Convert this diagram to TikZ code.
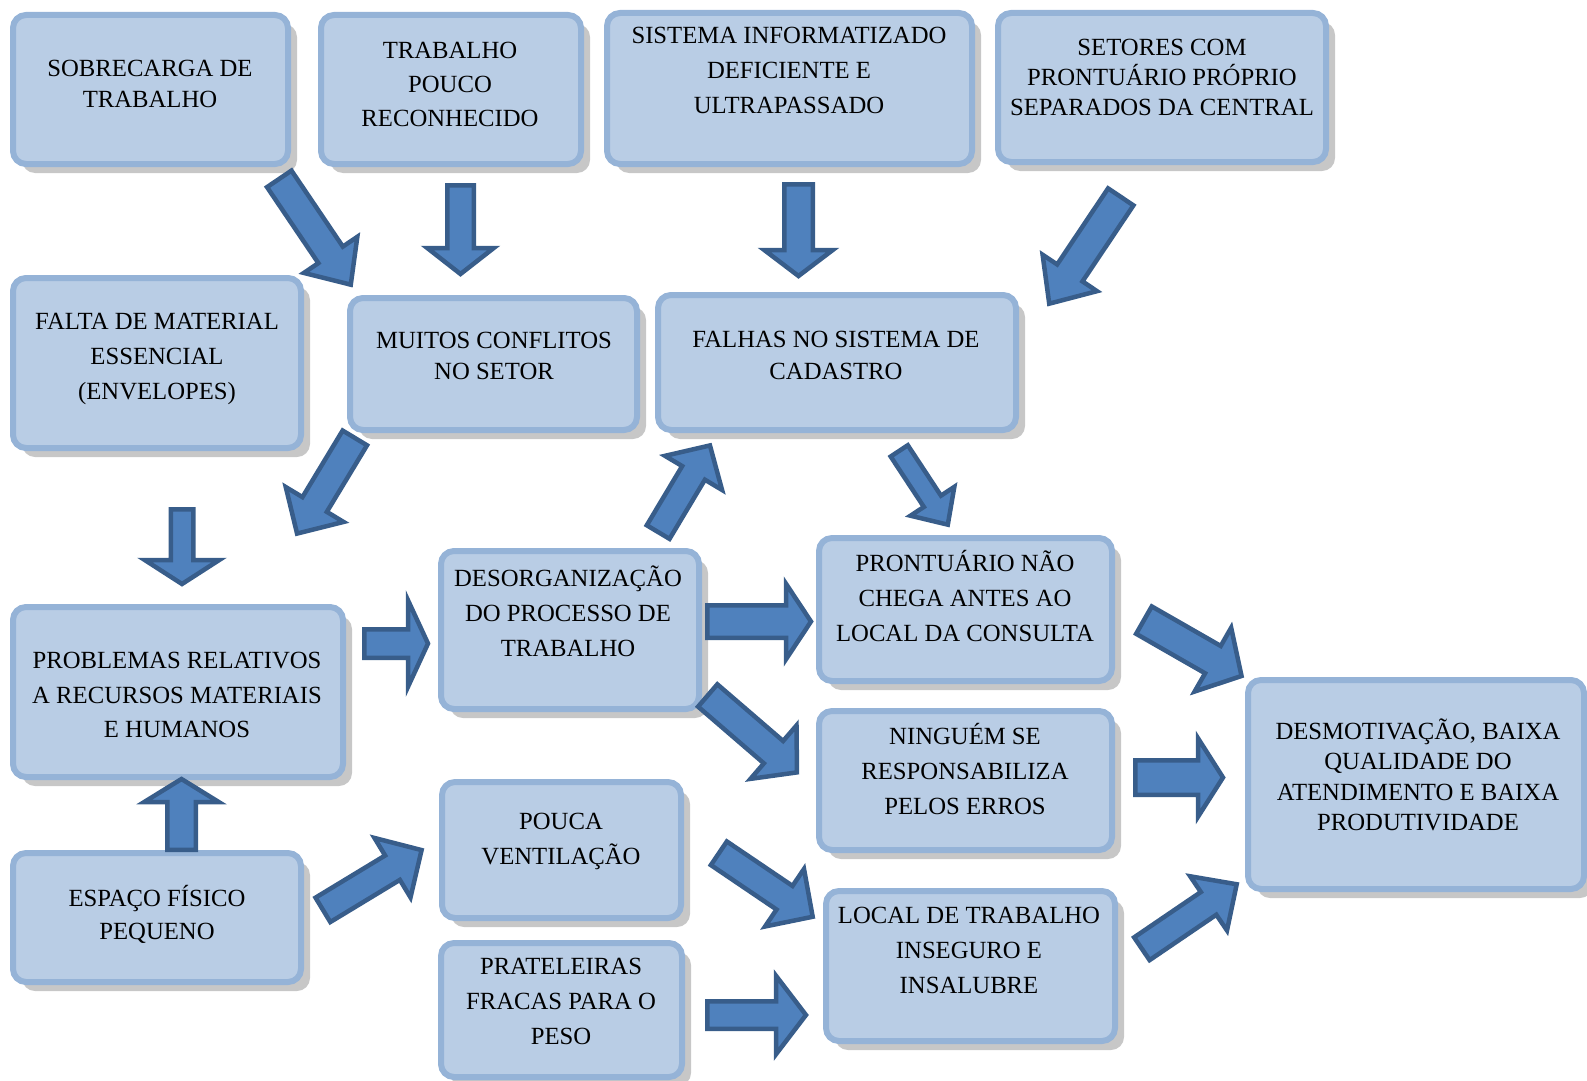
\documentclass[tikz,border=0pt]{standalone}
\usepackage{fontspec}
\setmainfont{Liberation Serif}
\usetikzlibrary{calc,shadows}
\definecolor{boxfill}{HTML}{B9CDE5}
\definecolor{boxline}{HTML}{95B3D7}
\definecolor{arrfill}{HTML}{4F81BD}
\definecolor{arrline}{HTML}{385D8A}
\tikzset{
  box/.style={draw=boxline, fill=boxfill, line width=6pt, rounded corners=13pt, inner sep=0pt,
    drop shadow={shadow xshift=9pt, shadow yshift=-9pt, fill=black!22, opacity=1}},
  txt/.style={align=center, inner sep=0pt, font=\fontsize{24.7}{35}\selectfont},
  txtb/.style={txt, font=\fontsize{24.7}{31}\selectfont},
  arr/.style={fill=arrfill, draw=arrline, line width=4.5pt, line join=miter},
}
% tail, tip, shaft outer width, head outer width, head outer length
\newcommand\barrow[5]{%
  \draw[arr] let \p1=(#1), \p2=(#2), \n1={atan2(\y2-\y1,\x2-\x1)},
     \p3=($(\p1)+(\n1:2.25pt)$), \p4=($(\p2)+(\n1+180:4pt)$),
     \n2={#3/2-2.25}, \n3={#4/2-2.25}, \n4={#5-2} in
    ($(\p3)+(\n1+90:\n2pt)$) --
    ($(\p4)+(\n1+180:\n4pt)+(\n1+90:\n2pt)$) --
    ($(\p4)+(\n1+180:\n4pt)+(\n1+90:\n3pt)$) --
    (\p4) --
    ($(\p4)+(\n1+180:\n4pt)+(\n1-90:\n3pt)$) --
    ($(\p4)+(\n1+180:\n4pt)+(\n1-90:\n2pt)$) --
    ($(\p3)+(\n1-90:\n2pt)$) -- cycle;
}
\begin{document}
\begin{tikzpicture}[x=1pt,y=-1pt]
\useasboundingbox (0,0) rectangle (1587,1081);
% boxes
\node[box, minimum width=275, minimum height=149] (sob) at (150.5,89.5) {};
\node[box, minimum width=260, minimum height=149] (tra) at (451,89.5) {};
\node[box, minimum width=365, minimum height=151] (sis) at (789.5,88.5) {};
\node[box, minimum width=328, minimum height=149] (set) at (1162,87.5) {};
\node[box, minimum width=288, minimum height=170] (fal) at (157,363) {};
\node[box, minimum width=287, minimum height=132] (mui) at (493.5,364) {};
\node[box, minimum width=358, minimum height=135] (fah) at (837,362.5) {};
\node[box, minimum width=258, minimum height=158] (des) at (570,630) {};
\node[box, minimum width=330, minimum height=170] (pro) at (178,692) {};
\node[box, minimum width=293, minimum height=143] (pnc) at (965.5,609.5) {};
\node[box, minimum width=293, minimum height=139] (nin) at (965.5,780.5) {};
\node[box, minimum width=336, minimum height=209] (dmt) at (1416,784.5) {};
\node[box, minimum width=288, minimum height=129] (esp) at (157,917.5) {};
\node[box, minimum width=239, minimum height=136] (pou) at (561.5,850) {};
\node[box, minimum width=241, minimum height=134] (pra) at (561.5,1010) {};
\node[box, minimum width=289, minimum height=150] (loc) at (970.5,966) {};
% texts
\node[txtb] (t1) at (150,83.5) {SOBRECARGA DE\\TRABALHO};
\node[txt, font=\fontsize{24.7}{34}\selectfont] (t2) at (450,84) {TRABALHO\\POUCO\\RECONHECIDO};
\node[txt] (t3) at (789,70) {SISTEMA INFORMATIZADO\\DEFICIENTE E\\ULTRAPASSADO};
\node[txt, font=\fontsize{24.7}{30}\selectfont] (t4) at (1162,77) {SETORES COM\\PRONTUÁRIO PRÓPRIO\\SEPARADOS DA CENTRAL};
\node[txt] (t5) at (157,359) {FALTA DE MATERIAL\\ESSENCIAL\\(ENVELOPES)};
\node[txtb] (t6) at (494,356) {MUITOS CONFLITOS\\NO SETOR};
\node[txt, font=\fontsize{24.7}{32}\selectfont] (t7) at (836,355) {FALHAS NO SISTEMA DE\\CADASTRO};
\node[txt] (t8) at (568,611) {DESORGANIZAÇÃO\\DO PROCESSO DE\\TRABALHO};
\node[txt, font=\fontsize{24.7}{34.5}\selectfont] (t9) at (177,695) {PROBLEMAS RELATIVOS\\A RECURSOS MATERIAIS\\E HUMANOS};
\node[txt] (t10) at (965,596) {PRONTUÁRIO NÃO\\CHEGA ANTES AO\\LOCAL DA CONSULTA};
\node[txt] (t11) at (965,769) {NINGUÉM SE\\RESPONSABILIZA\\PELOS ERROS};
\node[txt, font=\fontsize{24.7}{30.5}\selectfont] (t12) at (1418,775) {DESMOTIVAÇÃO, BAIXA\\QUALIDADE DO\\ATENDIMENTO E BAIXA\\PRODUTIVIDADE};
\node[txt, font=\fontsize{24.7}{33}\selectfont] (t13) at (157,914) {ESPAÇO FÍSICO\\PEQUENO};
\node[txt] (t14) at (561,841) {POUCA\\VENTILAÇÃO};
\node[txt] (t15) at (561,1001) {PRATELEIRAS\\FRACAS PARA O\\PESO};
\node[txt] (t16) at (969,950) {LOCAL DE TRABALHO\\INSEGURO E\\INSALUBRE};
% arrow end points
\coordinate (aAs) at (362,643.5);   \coordinate (aAe) at (432,643.5);
\coordinate (aBs) at (705,621.5);   \coordinate (aBe) at (815,621.5);
\coordinate (aCs) at (278,177);     \coordinate (aCe) at (353,288);
\coordinate (aDs) at (460.5,183);   \coordinate (aDe) at (460.5,278);
\coordinate (aEs) at (798.5,182);   \coordinate (aEe) at (798.5,280);
\coordinate (aFs) at (1122,195);    \coordinate (aFe) at (1047,307);
\coordinate (aGs) at (182,507);     \coordinate (aGe) at (182,588);
\coordinate (aHs) at (181.5,852);   \coordinate (aHe) at (181.5,775);
\coordinate (aIs) at (356,436);     \coordinate (aIe) at (295,537);
\coordinate (aJs) at (657,534);     \coordinate (aJe) at (712,442);
\coordinate (aKs) at (898,449);     \coordinate (aKe) at (950,528);
\coordinate (aLs) at (706,694);     \coordinate (aLe) at (800,775);
\coordinate (aMs) at (1142,619);    \coordinate (aMe) at (1245,678);
\coordinate (aNs) at (1133,777.5);  \coordinate (aNe) at (1227,777.5);
\coordinate (aOs) at (1140,950);    \coordinate (aOe) at (1240,882);
\coordinate (aPs) at (321,911);     \coordinate (aPe) at (425,848);
\coordinate (aQs) at (717,852);     \coordinate (aQe) at (816,919);
\coordinate (aRs) at (705,1015);    \coordinate (aRe) at (810,1015);
% arrows
\barrow{aAs}{aAe}{33}{91}{22}
\barrow{aBs}{aBe}{37}{80}{27}
\barrow{aCs}{aCe}{34}{69}{38}
\barrow{aDs}{aDe}{31}{71}{28}
\barrow{aEs}{aEe}{33}{73}{28}
\barrow{aFs}{aFe}{35}{70}{39}
\barrow{aGs}{aGe}{27}{79}{26}
\barrow{aHs}{aHe}{33}{79}{25}
\barrow{aIs}{aIe}{33}{72}{36}
\barrow{aJs}{aJe}{31}{71}{34}
\barrow{aKs}{aKe}{25}{57}{30}
\barrow{aLs}{aLe}{34}{75}{33}
\barrow{aMs}{aMe}{36}{78}{35}
\barrow{aNs}{aNe}{39}{83}{27}
\barrow{aOs}{aOe}{32}{70}{36}
\barrow{aPs}{aPe}{33}{74}{36}
\barrow{aQs}{aQe}{33}{74}{36}
\barrow{aRs}{aRe}{32}{83}{32}
\end{tikzpicture}
\end{document}
